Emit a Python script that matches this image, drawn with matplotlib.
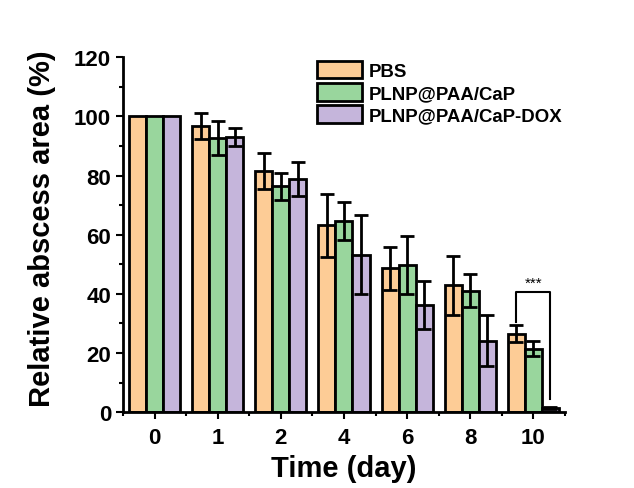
import matplotlib
matplotlib.use('Agg')
import matplotlib.pyplot as plt
import matplotlib.ticker as tck
import numpy as np

plt.rcParams['font.family'] = ['Liberation Sans', 'DejaVu Sans']
plt.rcParams['font.weight'] = 'bold'

days = ['0', '1', '2', '4', '6', '8', '10']
groups = ['PBS', 'PLNP@PAA/CaP', 'PLNP@PAA/CaP-DOX']
colors = ['#FDCC96', '#99D69D', '#C5B5DB']

pbs = [100, 96.8, 81.6, 63.2, 48.6, 42.9, 26.6]
pbs_err = [0, 4.5, 6.0, 10.6, 7.2, 10.0, 2.8]
cap = [100, 92.6, 76.3, 64.7, 49.7, 41.0, 21.5]
cap_err = [0, 5.8, 4.7, 6.4, 9.7, 5.6, 2.6]
dox = [100, 93.1, 78.8, 53.3, 36.2, 24.2, 1.5]
dox_err = [0, 3.0, 5.8, 13.3, 8.2, 8.6, 0.4]

fig = plt.figure(figsize=(6.34, 4.89), dpi=100)
ax = fig.add_axes([0.194, 0.155, 0.697, 0.726])

x = np.arange(len(days))
w = 0.27
for i, (vals, errs) in enumerate([(pbs, pbs_err), (cap, cap_err), (dox, dox_err)]):
    ax.bar(x + (i - 1) * w, vals, w, color=colors[i], edgecolor='black', linewidth=2,
           label=groups[i], zorder=2)
    e = np.array(errs)
    m = e > 0
    ax.errorbar((x + (i - 1) * w)[m], np.array(vals)[m], yerr=e[m], fmt='none',
                ecolor='black', elinewidth=2, capsize=5, capthick=2, zorder=3)

# significance bracket between PBS and DOX at day 10
xl = x[6] - w
xr = x[6] + w
ax.plot([xl, xl, xr, xr], [30.5, 40.5, 40.5, 4.5], color='black', lw=1.5, zorder=4)
ax.text((xl + xr) / 2, 41.5, '***', ha='center', va='bottom', fontsize=11, fontweight='normal')

ax.set_xlim(-0.5, 6.5)
ax.set_ylim(0, 120)
ax.set_xticks(x)
ax.set_xticklabels(days)
ax.xaxis.set_minor_locator(tck.FixedLocator(np.arange(-0.5, 6.6, 1)))
ax.yaxis.set_major_locator(tck.MultipleLocator(20))
ax.yaxis.set_minor_locator(tck.MultipleLocator(10))
ax.tick_params(axis='both', which='major', direction='out', length=5, width=1.5, labelsize=16)
ax.tick_params(axis='x', which='major', pad=6)
ax.tick_params(axis='both', which='minor', direction='out', length=3, width=1.5)
for t in ax.get_xticklabels() + ax.get_yticklabels():
    t.set_fontweight('bold')

for s in ['top', 'right']:
    ax.spines[s].set_visible(False)
for s in ['left', 'bottom']:
    ax.spines[s].set_linewidth(2)

ax.set_xlabel('Time (day)', fontsize=21, fontweight='bold')
ax.set_ylabel('Relative abscess area (%)', fontsize=21, fontweight='bold')
ax.xaxis.set_label_coords(0.5, -0.118)
ax.yaxis.set_label_coords(-0.152, 0.52)

fig.legend(loc='upper left', bbox_to_anchor=(0.486, 0.893), frameon=False, borderpad=0,
           prop={'size': 13.4, 'weight': 'bold'}, handlelength=2.4, handleheight=1.1,
           handletextpad=0.35, labelspacing=0.15)

fig.savefig('out.png', dpi=100)
